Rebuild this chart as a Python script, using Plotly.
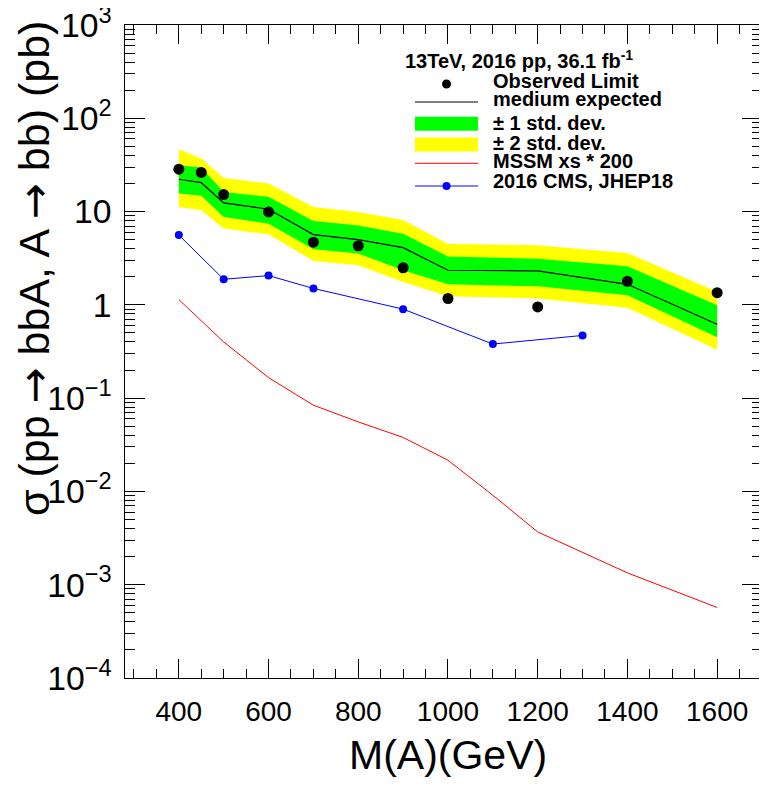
import plotly.graph_objects as go

# ---------------- data ----------------
mass = [400, 450, 500, 600, 700, 800, 900, 1000, 1200, 1400, 1600]
observed = [28.5, 26.3, 15.2, 9.9, 4.7, 4.3, 2.5, 1.17, 0.95, 1.79, 1.35]
expected = [22.2, 20.4, 12.4, 10.6, 5.66, 5.0, 4.1, 2.35, 2.31, 1.66, 0.62]
up1 = [31.3, 29.6, 16.2, 14.4, 7.94, 7.1, 5.8, 3.3, 3.13, 2.6, 0.99]
down1 = [15.6, 14.8, 8.75, 7.4, 3.95, 3.55, 2.35, 1.66, 1.58, 1.27, 0.45]
up2 = [46.6, 37.0, 22.9, 20.0, 11.2, 9.9, 8.1, 4.5, 4.35, 3.6, 1.38]
down2 = [11.2, 10.3, 6.57, 5.7, 2.95, 2.65, 1.76, 1.24, 1.17, 0.93, 0.33]

mass_mssm = [400, 500, 600, 700, 800, 900, 1000, 1100, 1200, 1400, 1600]
mssm_x200 = [1.14, 0.40, 0.166, 0.084, 0.0556, 0.0379, 0.0216, 0.0091, 0.00368, 0.00134, 0.00057]

mass_cms = [400, 500, 600, 700, 900, 1100, 1300]
cms_2016 = [5.6, 1.88, 2.06, 1.5, 0.9, 0.38, 0.47]

legend_header = "13TeV, 2016 pp, 36.1 fb<sup>-1</sup>"
legend_labels = ["Observed Limit", "medium expected", "± 1 std. dev.",
                 "± 2 std. dev.", "MSSM xs * 200", "2016 CMS, JHEP18"]

# ---------------- layout geometry ----------------
OFF = 8                       # page body margin of the html document
W, H = 767 - OFF, 785 - OFF
L, T = 125 - OFF, 25 - OFF
R = W - (762 - OFF)
B = H - (678 - OFF)
PW, PH = W - L - R, H - T - B


def xp(px):
    """page pixel x -> paper coordinate"""
    return (px - OFF - L) / PW


def yp(py):
    """page pixel y -> paper coordinate"""
    return (H - B - (py - OFF)) / PH


FONT = "Liberation Sans, Arial, Helvetica, sans-serif"
ARROW = "<span style='font-family:DejaVu Sans'>→</span>"

fig = go.Figure()

# 2 sigma band
fig.add_trace(go.Scatter(
    x=mass + mass[::-1], y=up2 + down2[::-1], fill="toself",
    fillcolor="#ffff00", line=dict(width=0), mode="lines",
    hoverinfo="skip", showlegend=False))
# 1 sigma band
fig.add_trace(go.Scatter(
    x=mass + mass[::-1], y=up1 + down1[::-1], fill="toself",
    fillcolor="#00ff00", line=dict(width=0), mode="lines",
    hoverinfo="skip", showlegend=False))
# expected
fig.add_trace(go.Scatter(x=mass, y=expected, mode="lines",
                         line=dict(color="black", width=1.2), showlegend=False))
# MSSM
fig.add_trace(go.Scatter(x=mass_mssm, y=mssm_x200, mode="lines",
                         line=dict(color="#ff0000", width=1), showlegend=False))
# CMS
fig.add_trace(go.Scatter(x=mass_cms, y=cms_2016, mode="lines+markers",
                         line=dict(color="#0000ff", width=1),
                         marker=dict(color="#0000ff", size=8), showlegend=False))
# observed
fig.add_trace(go.Scatter(x=mass, y=observed, mode="markers",
                         marker=dict(color="black", size=11), showlegend=False))

# ---------------- custom legend ----------------
sx0, sx1 = 415, 478
sxm = (sx0 + sx1) / 2
text_x = 491
text_rows = [81, 99, 123, 143.5, 160.5, 181]
sym_rows = [84, 102, 123.7, 144.5, 163.3, 186]
shapes = []
annotations = []

annotations.append(dict(xref="paper", yref="paper", x=xp(403), y=yp(59),
                        xanchor="left", yanchor="middle", showarrow=False,
                        text="<b>" + legend_header + "</b>",
                        font=dict(family=FONT, size=20, color="black")))
for lab, ry in zip(legend_labels, text_rows):
    annotations.append(dict(xref="paper", yref="paper", x=xp(text_x), y=yp(ry),
                            xanchor="left", yanchor="middle", showarrow=False,
                            text="<b>" + lab + "</b>",
                            font=dict(family=FONT, size=20, color="black")))

# observed dot
shapes.append(dict(type="circle", xref="paper", yref="paper",
                   x0=xp(sxm - 4.5), x1=xp(sxm + 4.5),
                   y0=yp(sym_rows[0] - 4.5), y1=yp(sym_rows[0] + 4.5),
                   fillcolor="black", line=dict(width=0)))
# expected line
shapes.append(dict(type="line", xref="paper", yref="paper",
                   x0=xp(sx0), x1=xp(sx1), y0=yp(sym_rows[1]), y1=yp(sym_rows[1]),
                   line=dict(color="black", width=1.2)))
# green box
shapes.append(dict(type="rect", xref="paper", yref="paper",
                   x0=xp(sx0), x1=xp(sx1), y0=yp(sym_rows[2] - 7), y1=yp(sym_rows[2] + 7),
                   fillcolor="#00ff00", line=dict(width=0)))
# yellow box
shapes.append(dict(type="rect", xref="paper", yref="paper",
                   x0=xp(sx0), x1=xp(sx1), y0=yp(sym_rows[3] - 7), y1=yp(sym_rows[3] + 7),
                   fillcolor="#ffff00", line=dict(width=0)))
# red line
shapes.append(dict(type="line", xref="paper", yref="paper",
                   x0=xp(sx0), x1=xp(sx1), y0=yp(sym_rows[4]), y1=yp(sym_rows[4]),
                   line=dict(color="#ff0000", width=1)))
# blue line + dot
shapes.append(dict(type="line", xref="paper", yref="paper",
                   x0=xp(sx0), x1=xp(sx1), y0=yp(sym_rows[5]), y1=yp(sym_rows[5]),
                   line=dict(color="#0000ff", width=1)))
shapes.append(dict(type="circle", xref="paper", yref="paper",
                   x0=xp(sxm - 4), x1=xp(sxm + 4), y0=yp(sym_rows[5] - 4), y1=yp(sym_rows[5] + 4),
                   fillcolor="#0000ff", line=dict(width=0)))

# axis titles
annotations.append(dict(xref="paper", yref="paper", x=xp(448), y=yp(755),
                        xanchor="center", yanchor="middle", showarrow=False,
                        text="M(A)(GeV)", font=dict(family=FONT, size=41, color="black")))
annotations.append(dict(xref="paper", yref="paper", x=xp(34), y=yp(269),
                        xanchor="center", yanchor="middle", showarrow=False, textangle=-90,
                        text="σ (pp " + ARROW + " bbA, A " + ARROW + " bb) (pb)",
                        font=dict(family=FONT, size=43, color="black")))

fig.update_layout(
    width=W, height=H,
    margin=dict(l=L, r=R, t=T, b=B, pad=0, autoexpand=False),
    paper_bgcolor="white", plot_bgcolor="white",
    font=dict(family=FONT, color="black"),
    shapes=shapes, annotations=annotations,
    showlegend=False,
)
fig.update_xaxes(
    automargin=False, ticklabeloverflow="allow",
    range=[280, 1700], showgrid=False, zeroline=False,
    showline=True, linecolor="black", linewidth=1, mirror="allticks",
    ticks="inside", ticklen=19, tickwidth=1, tickcolor="black",
    tick0=0, dtick=200, tickfont=dict(family=FONT, size=28, color="black"),
    ticklabelstandoff=8,
    minor=dict(ticks="inside", ticklen=9, tickwidth=1, tickcolor="black",
               tick0=0, dtick=50, showgrid=False),
)
fig.update_yaxes(
    automargin=False, ticklabeloverflow="allow",
    type="log", range=[-4, 3], showgrid=False, zeroline=False,
    showline=True, linecolor="black", linewidth=1, mirror="allticks",
    ticks="inside", ticklen=20, tickwidth=1, tickcolor="black",
    dtick=1, exponentformat="power",
    tickfont=dict(family=FONT, size=27, color="black"),
    ticklabelstandoff=7,
    minor=dict(ticks="inside", ticklen=10, tickwidth=1, tickcolor="black",
               dtick="D1", showgrid=False),
)

fig.write_html("out.html")
